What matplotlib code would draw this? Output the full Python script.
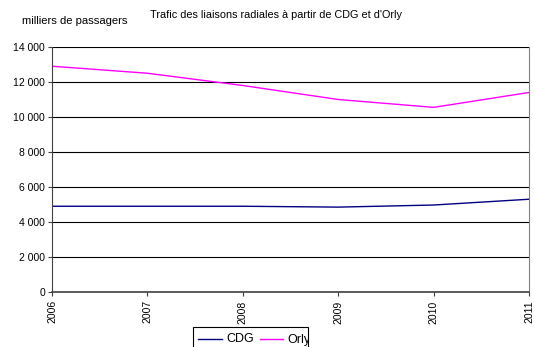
import matplotlib
matplotlib.use("Agg")
import matplotlib.pyplot as plt
from matplotlib.lines import Line2D
from matplotlib.patches import Rectangle

plt.rcParams['font.family'] = ['Liberation Sans', 'DejaVu Sans']

years = [2006, 2007, 2008, 2009, 2010, 2011]
cdg = [4900, 4900, 4900, 4850, 4970, 5300]
orly = [12900, 12500, 11800, 11000, 10550, 11400]
series_names = ["CDG", "Orly"]
series_colors = ["#000080", "#FF00FF"]
yticks = [0, 2000, 4000, 6000, 8000, 10000, 12000, 14000]
ytick_labels = ["0", "2 000", "4 000", "6 000", "8 000", "10 000", "12 000", "14 000"]

W, H = 534, 347
fig = plt.figure(figsize=(W / 100, H / 100), dpi=100)
ax = fig.add_axes([0.0974, 0.1585, 0.8932, 0.7061])

ax.plot(years, cdg, color=series_colors[0], lw=1.0)
ax.plot(years, orly, color=series_colors[1], lw=1.0)

ax.set_xlim(years[0], years[-1])
ax.set_ylim(0, 14000)
ax.set_yticks(yticks)
ax.set_yticklabels(ytick_labels, fontsize=7.5)
ax.set_xticks(years)
ax.set_xticklabels([str(y) for y in years], rotation=90, fontsize=7.5)
ax.yaxis.grid(True, color="black", lw=0.8)
ax.set_axisbelow(True)
ax.tick_params(axis="both", direction="out", length=3, width=0.8, color="#404040", pad=2)
ax.tick_params(axis="x", pad=3)

ax.spines["top"].set_visible(False)
ax.spines["right"].set_color("#808080")
ax.spines["right"].set_linewidth(0.8)
ax.spines["left"].set_color("#404040")
ax.spines["bottom"].set_color("#404040")
ax.spines["bottom"].set_linewidth(1.2)

fig.text(22 / W, 1 - 21 / H, "milliers de passagers", fontsize=8.1, va="center")
fig.text(150 / W, 1 - 15 / H, "Trafic des liaisons radiales à partir de CDG et d'Orly",
         fontsize=7.8, va="center")

# Legend box below the axis, partly cut by the figure edge
box = Rectangle((193 / W, 1 - 357 / H), 115 / W, 30 / H, transform=fig.transFigure,
                facecolor="white", edgecolor="black", lw=0.8)
fig.add_artist(box)
entries = [(198, 222, 226), (260, 283, 287)]
for (x0, x1, xt), name, col in zip(entries, series_names, series_colors):
    fig.add_artist(Line2D([x0 / W, x1 / W], [1 - 339 / H] * 2, transform=fig.transFigure,
                          color=col, lw=1.0))
    t = fig.text(xt / W, 1 - 339.5 / H, name, fontsize=9, va="center")
    t.set_clip_path(box)

fig.savefig("out.png", dpi=100)
